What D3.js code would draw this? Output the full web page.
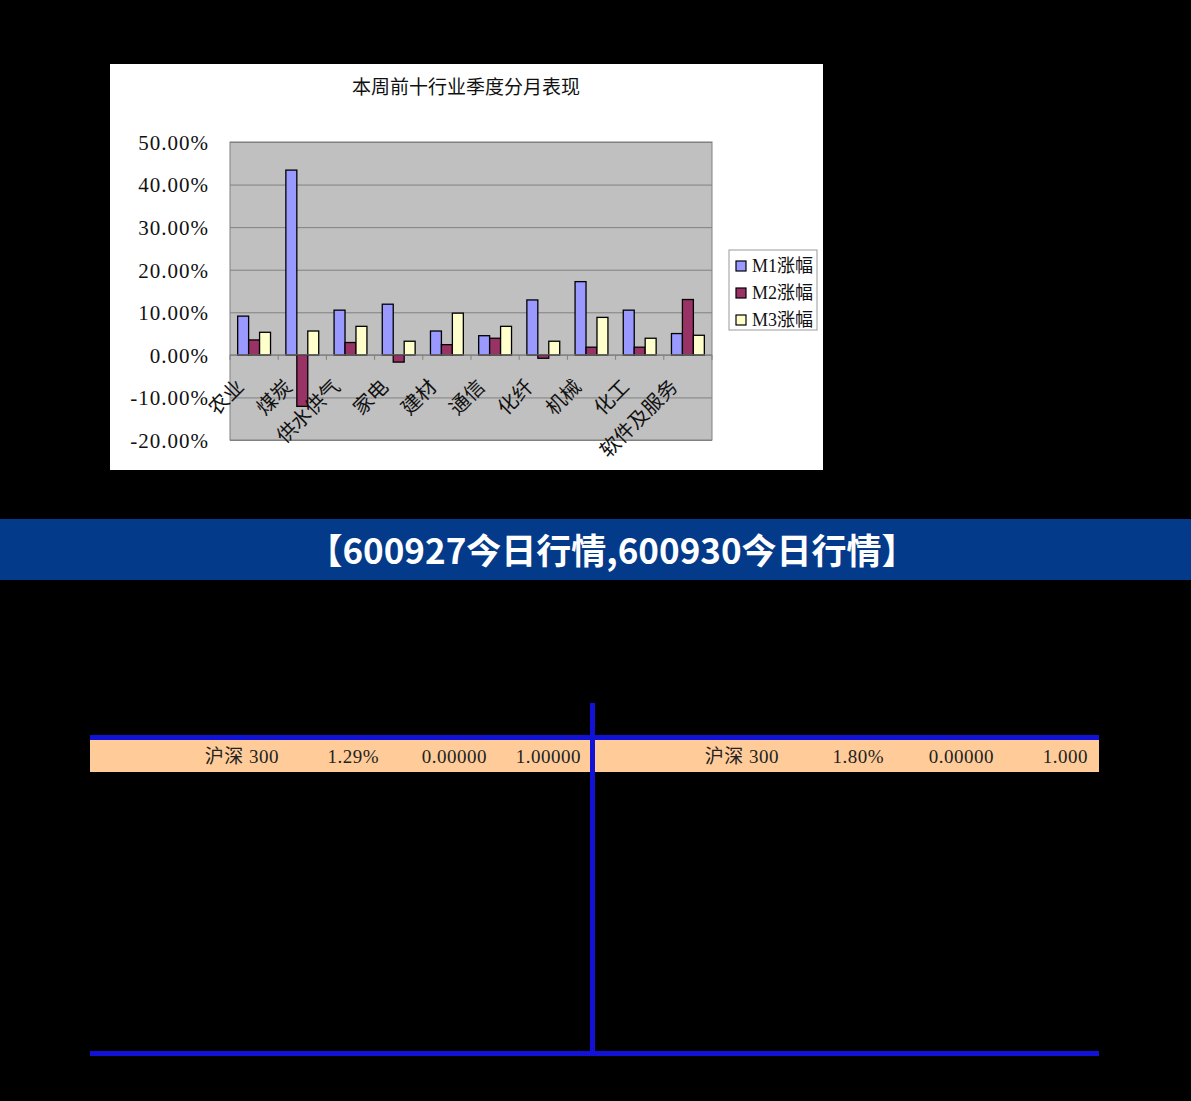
<!DOCTYPE html>
<html>
<head>
<meta charset="UTF-8">
<script src="https://d3js.org/d3.v7.min.js"></script>
<style>
  html, body { margin: 0; padding: 0; background: #000; }
  body { width: 1191px; height: 1101px; overflow: hidden; }
  svg { display: block; }
</style>
<title>本周前十行业季度分月表现</title>
</head>
<body>
<script>
// chart data (percent)
var industries = ["农业", "煤炭", "供水供气", "家电", "建材", "通信", "化纤", "机械", "化工", "软件及服务"];
var seriesNames = ["M1涨幅", "M2涨幅", "M3涨幅"];
var m1 = [9.1, 43.4, 10.5, 11.9, 5.6, 4.5, 12.9, 17.2, 10.5, 5.0];
var m2 = [3.5, -12.1, 2.9, -1.7, 2.4, 3.9, -0.8, 1.8, 1.8, 13.0];
var m3 = [5.3, 5.6, 6.7, 3.2, 9.8, 6.7, 3.2, 8.8, 3.9, 4.6];
var yTicks = [-20, -10, 0, 10, 20, 30, 40, 50];

// table row under the banner
var leftRow = ["沪深 300", "1.29%", "0.00000", "1.00000"];
var rightRow = ["沪深 300", "1.80%", "0.00000", "1.000"];

var colors = ["#9999ff", "#993366", "#ffffcc"];
var serif = "'Liberation Serif', 'DejaVu Serif', 'Noto Sans CJK SC', serif";

var W = 1191, H = 1101;
var svg = d3.select("body").append("svg").attr("width", W).attr("height", H);
svg.append("rect").attr("width", W).attr("height", H).attr("fill", "#000");

// ---- chart box ----
var box = { x: 110, y: 64, w: 713, h: 406 };
svg.append("rect").attr("x", box.x).attr("y", box.y).attr("width", box.w).attr("height", box.h).attr("fill", "#fff");

svg.append("text").attr("x", 466).attr("y", 94)
  .attr("text-anchor", "middle")
  .style("font-family", serif).style("font-size", "19px").attr("fill", "#111")
  .text("本周前十行业季度分月表现");

var plot = { left: 230, top: 142, right: 712, bottom: 440 };
var x = d3.scaleBand().domain(industries).range([plot.left, plot.right]);
var xs = d3.scaleBand().domain(seriesNames).range([0, x.bandwidth()]).paddingInner(0).paddingOuter(0.7);
var y = d3.scaleLinear().domain([-20, 50]).range([plot.bottom, plot.top]);

var g = svg.append("g");
g.append("rect").attr("x", plot.left).attr("y", plot.top)
  .attr("width", plot.right - plot.left).attr("height", plot.bottom - plot.top)
  .attr("fill", "#c0c0c0");

// gridlines
var grid = g.append("g").attr("transform", "translate(" + plot.left + ",0)")
  .call(d3.axisLeft(y).tickValues(yTicks).tickSize(-(plot.right - plot.left)).tickFormat(""));
grid.select(".domain").remove();
grid.selectAll("line").attr("stroke", "#808080").attr("stroke-width", 1);

g.append("rect").attr("x", plot.left).attr("y", plot.top)
  .attr("width", plot.right - plot.left).attr("height", plot.bottom - plot.top)
  .attr("fill", "none").attr("stroke", "#808080").attr("stroke-width", 1);

// y labels
var yAxis = g.append("g").attr("transform", "translate(" + (plot.left - 18) + ",0)")
  .call(d3.axisLeft(y).tickValues(yTicks).tickSize(0).tickFormat(function(d) { return d.toFixed(2) + "%"; }));
yAxis.select(".domain").remove();
yAxis.selectAll("text")
  .style("font-family", serif).style("font-size", "21px").style("letter-spacing", "1px")
  .attr("fill", "#111").attr("dy", "0.35em");

// bars
var data = industries.map(function(c, i) {
  return { cat: c, vals: [m1[i], m2[i], m3[i]] };
});
var groups = g.selectAll(".grp").data(data).enter().append("g")
  .attr("transform", function(d) { return "translate(" + x(d.cat) + ",0)"; });
groups.selectAll("rect").data(function(d) {
  return d.vals.map(function(v, k) { return { s: seriesNames[k], v: v, k: k }; });
}).enter().append("rect")
  .attr("x", function(d) { return xs(d.s); })
  .attr("width", xs.bandwidth())
  .attr("y", function(d) { return y(Math.max(0, d.v)); })
  .attr("height", function(d) { return Math.abs(y(d.v) - y(0)); })
  .attr("fill", function(d) { return colors[d.k]; })
  .attr("stroke", "#000").attr("stroke-width", 1.3);

// zero axis with category tick marks
g.append("line").attr("x1", plot.left).attr("x2", plot.right)
  .attr("y1", y(0)).attr("y2", y(0)).attr("stroke", "#808080");
g.selectAll(".ctick").data(industries.concat(["__end"])).enter().append("line")
  .attr("x1", function(d) { return d === "__end" ? plot.right : x(d); })
  .attr("x2", function(d) { return d === "__end" ? plot.right : x(d); })
  .attr("y1", y(0)).attr("y2", y(0) + 5).attr("stroke", "#808080");

// rotated category labels
g.selectAll(".xl").data(industries).enter().append("text")
  .attr("transform", function(d) {
    return "translate(" + (x(d) + x.bandwidth() / 2 - 9) + ",388) rotate(-45)";
  })
  .attr("text-anchor", "end")
  .style("font-family", serif).style("font-size", "20px").attr("fill", "#111")
  .text(function(d) { return d; });

// legend
var leg = svg.append("g").attr("transform", "translate(729,250)");
leg.append("rect").attr("width", 88).attr("height", 80).attr("fill", "#fff")
  .attr("stroke", "#999").attr("stroke-width", 1);
var li = leg.selectAll(".li").data(seriesNames).enter().append("g")
  .attr("transform", function(d, i) { return "translate(0," + (16 + i * 27) + ")"; });
li.append("rect").attr("x", 7).attr("y", -5).attr("width", 10).attr("height", 10)
  .attr("fill", function(d, i) { return colors[i]; }).attr("stroke", "#000").attr("stroke-width", 1.2);
li.append("text").attr("x", 23).attr("dy", "0.36em")
  .style("font-family", serif).style("font-size", "18px").attr("fill", "#111")
  .text(function(d) { return d; });

// ---- banner ----
svg.append("rect").attr("x", 0).attr("y", 519).attr("width", W).attr("height", 61).attr("fill", "#043a8a");
svg.append("text").attr("x", 612).attr("y", 551).attr("dy", "0.36em")
  .attr("text-anchor", "middle")
  .style("font-family", "'Noto Sans CJK SC', sans-serif").style("font-weight", "bold")
  .style("font-size", "35px").attr("fill", "#fff")
  .text("【600927今日行情,600930今日行情】");

// ---- table ----
var blue = "#1212d6";
svg.append("rect").attr("x", 90).attr("y", 740).attr("width", 1009).attr("height", 32).attr("fill", "#ffcc99");
svg.append("rect").attr("x", 90).attr("y", 735).attr("width", 1009).attr("height", 5).attr("fill", blue);
svg.append("rect").attr("x", 90).attr("y", 1051).attr("width", 1009).attr("height", 5).attr("fill", blue);
svg.append("rect").attr("x", 590).attr("y", 703).attr("width", 5).attr("height", 350).attr("fill", blue);

var leftCols = [279, 379, 487, 581];
var rightCols = [779, 884, 994, 1088];
function row(vals, cols) {
  svg.selectAll(null).data(vals).enter().append("text")
    .attr("x", function(d, i) { return cols[i]; })
    .attr("y", 756).attr("dy", "0.36em").attr("text-anchor", "end")
    .style("font-family", serif).style("font-size", "19px").style("letter-spacing", "0.5px")
    .attr("fill", "#222")
    .text(function(d) { return d; });
}
row(leftRow, leftCols);
row(rightRow, rightCols);
</script>
</body>
</html>
